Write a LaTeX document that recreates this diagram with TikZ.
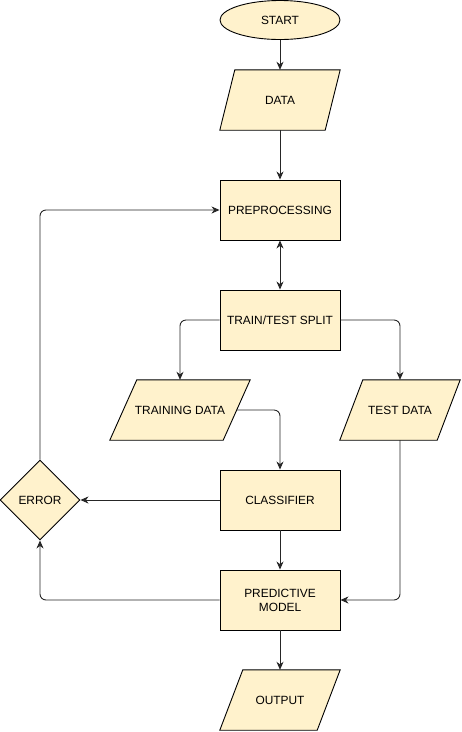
\documentclass[tikz,border=0pt]{standalone}
\usepackage{fontspec}
\setmainfont{Liberation Sans}
\usetikzlibrary{shapes.geometric,arrows.meta,calc,backgrounds}
\definecolor{boxfill}{HTML}{FFF2CC}
\newcommand\myparallel[2]{%
  \begin{pgfonlayer}{background}
  \draw[shapeline] (#1.south west) -- ($(#1.north west)+(#2,0)$) -- (#1.north east) -- ($(#1.south east)-(#2,0)$) -- cycle;
  \end{pgfonlayer}}
\begin{document}
\begin{tikzpicture}[x=1pt,y=-1pt,
  shapeline/.style={draw=black,fill=boxfill,line width=0.9pt},
  txt/.style={inner sep=0pt,align=center,font=\fontsize{11.9}{14}\selectfont},
  base/.style={shapeline,txt},
  procbox/.style={base,rectangle,minimum width=120pt,minimum height=60pt},
  iobox/.style={txt,rectangle,minimum width=#1,minimum height=60pt},
  conn/.style={line width=0.9pt,draw=black!85,rounded corners=6pt,-{Stealth[length=8pt,width=7pt,inset=2.5pt]}},
  conn2/.style={line width=0.9pt,draw=black!85,{Stealth[length=8pt,width=7pt,inset=2.5pt]}-{Stealth[length=8pt,width=7pt,inset=2.5pt]}}
]
\useasboundingbox (0,0) rectangle (462,732);
\node[base,ellipse,minimum width=120pt,minimum height=39pt] (start) at (280,20) {START};
\node[iobox=120pt] (data) at (280,100) {DATA};
\myparallel{data}{15}
\node[procbox] (prep) at (280,210) {PREPROCESSING};
\node[procbox] (split) at (280,320) {TRAIN/TEST SPLIT};
\node[iobox=140pt] (train) at (180,410) {TRAINING DATA};
\myparallel{train}{27}
\coordinate (traine) at ($(train.east)-(13.5,0)$);
\node[iobox=120pt] (test) at (400,410) {TEST DATA};
\myparallel{test}{23}
\node[procbox] (clf) at (280,500) {CLASSIFIER};
\node[base,diamond,minimum width=80pt,minimum height=80pt] (err) at (40,500) {ERROR};
\node[procbox] (pred) at (280,600) {PREDICTIVE\\MODEL};
\node[iobox=120pt] (out) at (280,700) {OUTPUT};
\myparallel{out}{23}

\draw[conn] (start.south) -- (data.north);
\draw[conn] (data.south) -- (prep.north);
\draw[conn2] (prep.south) -- (split.north);
\draw[conn] (split.west) -| (train.north);
\draw[conn] (split.east) -| (test.north);
\draw[conn] (traine) -| (clf.north);
\draw[conn] (test.south) |- (pred.east);
\draw[conn] (clf.west) -- (err.east);
\draw[conn] (clf.south) -- (pred.north);
\draw[conn] (pred.west) -| (err.south);
\draw[conn] (err.north) |- (prep.west);
\draw[conn] (pred.south) -- (out.north);
\end{tikzpicture}
\end{document}
